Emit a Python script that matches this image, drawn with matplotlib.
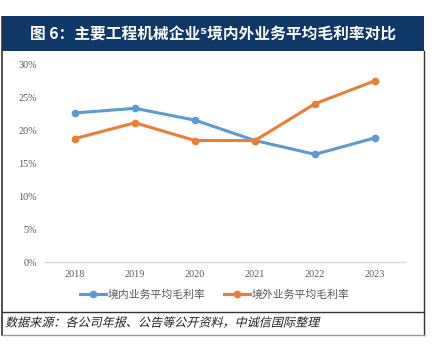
import matplotlib.pyplot as plt
from matplotlib.patches import Rectangle
from matplotlib.lines import Line2D
from matplotlib import patheffects
from matplotlib.transforms import Affine2D

plt.rcParams['font.family'] = ['Noto Sans CJK SC', 'DejaVu Sans']

years = ['2018', '2019', '2020', '2021', '2022', '2023']
domestic = [22.7, 23.4, 21.6, 18.5, 16.4, 18.9]
overseas = [18.8, 21.2, 18.5, 18.5, 24.1, 27.6]
y_ticks = [0, 5, 10, 15, 20, 25, 30]
labels = ['境内业务平均毛利率', '境外业务平均毛利率']

W, H = 434, 352
fig = plt.figure(figsize=(W / 100, H / 100), dpi=100)


def fx(px):
    return px / W


def fy(py):
    return 1 - py / H


# CJK font has no italic face, so slant the glyphs by hand
class Slant(patheffects.AbstractPathEffect):
    def __init__(self, deg=14):
        super().__init__()
        self.deg = deg

    def draw_path(self, renderer, gc, tpath, affine, rgbFace=None):
        renderer.draw_path(gc, tpath, Affine2D().skew_deg(self.deg, 0) + affine, rgbFace)


# title bar
fig.patches.append(Rectangle((fx(2), fy(51)), fx(422), 35 / H, transform=fig.transFigure,
                             facecolor='#0d3868', edgecolor='none'))
fig.text(fx(213), fy(34), '图 6：主要工程机械企业⁵境内外业务平均毛利率对比', color='white',
         fontsize=11.3, fontweight='bold', ha='center', va='center')

# frame lines
border = '#333333'
fig.add_artist(Line2D([fx(2), fx(2)], [fy(17), fy(335)], color=border, lw=1.2))
fig.add_artist(Line2D([fx(424), fx(424)], [fy(51), fy(335)], color=border, lw=1.0))
fig.add_artist(Line2D([fx(2), fx(424)], [fy(312), fy(312)], color=border, lw=1.0))
fig.add_artist(Line2D([fx(2), fx(424)], [fy(335), fy(335)], color='#999999', lw=1.0))

ax = fig.add_axes([fx(45), fy(262), fx(360), 197 / H])
x = range(len(years))
ax.plot(x, domestic, color='#5B9BD5', lw=2.2, marker='o', markersize=4.5, label=labels[0])
ax.plot(x, overseas, color='#ED7D31', lw=2.2, marker='o', markersize=4.5, label=labels[1])
ax.set_xlim(-0.5, 5.5)
ax.set_ylim(0, 30)
ax.set_xticks(list(x))
ax.set_xticklabels(years)
ax.set_yticks(y_ticks)
ax.set_yticklabels([f'{t}%' for t in y_ticks])
for lab in ax.get_xticklabels() + ax.get_yticklabels():
    lab.set_family('Liberation Serif')
    lab.set_fontsize(7.3)
    lab.set_color('#595959')
ax.tick_params(length=0)
ax.tick_params(axis='x', pad=6)
ax.tick_params(axis='y', pad=6)
for s in ['top', 'right', 'left']:
    ax.spines[s].set_visible(False)
ax.spines['bottom'].set_color('#d9d9d9')
ax.spines['bottom'].set_linewidth(1)
ax.patch.set_alpha(0)

leg = ax.legend(loc='center', bbox_to_anchor=(fx(215), fy(295)), bbox_transform=fig.transFigure,
                ncol=2, frameon=False, fontsize=7.8, handlelength=2.4, handletextpad=0.15,
                columnspacing=1.7, labelcolor='#595959')

fig.text(fx(5), fy(323), '数据来源：各公司年报、公告等公开资料，中诚信国际整理', fontsize=8.7,
         color='#222222', ha='left', va='center', path_effects=[Slant(14)])

fig.savefig('out.png', dpi=100)
